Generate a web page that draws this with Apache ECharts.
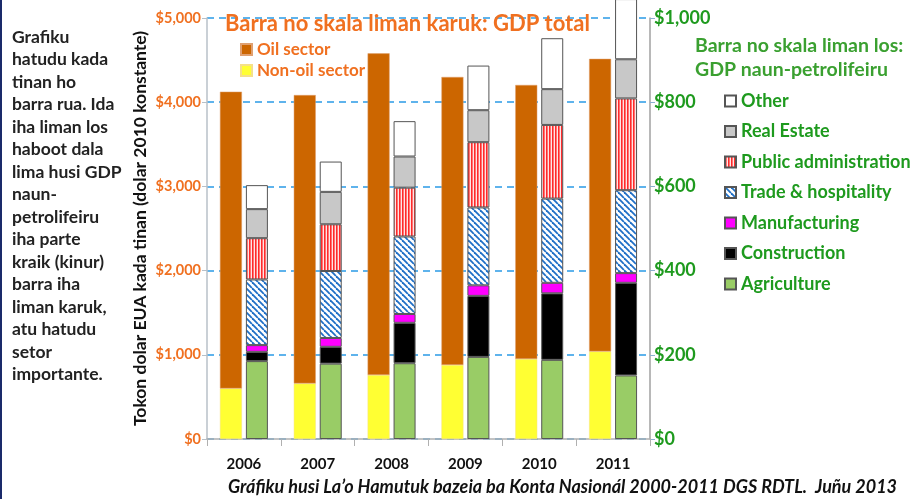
<!DOCTYPE html>
<html>
<head>
<meta charset="utf-8">
<script src="https://cdn.jsdelivr.net/npm/echarts@6/dist/echarts.min.js"></script>
<style>
  html, body { margin: 0; padding: 0; background: #fff; }
  #main { width: 918px; height: 499px; }
</style>
</head>
<body>
<div id="main"></div>
<script>
// data
var years = ['2006', '2007', '2008', '2009', '2010', '2011'];
var nonOil = [600, 660, 760, 880, 950, 1040];
var oil = [3525, 3425, 3820, 3420, 3255, 3475];

// non-oil sectors (right axis)
var agriculture = [185, 179, 180, 195, 188, 151];
var construction = [22, 40, 96, 145, 158, 220];
var manufacturing = [16, 21, 21, 25, 25, 23];
var trade = [156, 159, 184, 185, 200, 197];
var publicAdmin = [98, 111, 116, 155, 175, 218];
var realEstate = [69, 77, 74, 76, 85, 93];
var other = [57, 72, 84, 106, 121, 143];

var leftTicks = [0, 1000, 2000, 3000, 4000, 5000];
var rightTicks = [0, 200, 400, 600, 800, 1000];

var FONT = 'Lato, "Open Sans", sans-serif';
var ORANGE = '#f07020';
var GREEN = '#1e9a1e';

function fmtDollar(v) {
    return '$' + v.toLocaleString('en-US');
}

// stripe patterns
function tradePattern() {
    var c = document.createElement('canvas');
    c.width = 6; c.height = 6;
    var g = c.getContext('2d');
    g.fillStyle = '#ffffff';
    g.fillRect(0, 0, 6, 6);
    g.strokeStyle = '#1f6fc6';
    g.lineWidth = 1.8;
    for (var k = -6; k <= 6; k += 6) {
        g.beginPath();
        g.moveTo(k, 0);
        g.lineTo(k + 6, 6);
        g.stroke();
    }
    return { image: c, repeat: 'repeat' };
}
function adminPattern() {
    var c = document.createElement('canvas');
    c.width = 3; c.height = 3;
    var g = c.getContext('2d');
    g.fillStyle = '#ffe4e4';
    g.fillRect(0, 0, 3, 3);
    g.fillStyle = '#ff2a2a';
    g.fillRect(0, 0, 1.6, 3);
    return { image: c, repeat: 'repeat' };
}

function sector(name, data, color) {
    return {
        name: name,
        type: 'bar',
        stack: 'nonoil',
        yAxisIndex: 1,
        barWidth: 22,
        barGap: '18%',
        clip: false,
        itemStyle: { color: color, borderColor: '#555', borderWidth: 1 },
        data: data
    };
}

var chart = echarts.init(document.getElementById('main'));

var option = {
    backgroundColor: '#fff',
    animation: false,
    textStyle: { fontFamily: FONT },
    title: {
        text: 'Barra no skala liman karuk: GDP total',
        left: 220,
        top: 8,
        textStyle: { color: ORANGE, fontSize: 22, fontWeight: 'bold', fontFamily: FONT }
    },
    legend: [
        {
            data: ['Oil sector', 'Non-oil sector'],
            orient: 'vertical',
            left: 235,
            top: 36,
            itemWidth: 11,
            itemHeight: 11,
            itemGap: 4,
            icon: 'rect',
            selectedMode: false,
            textStyle: { color: ORANGE, fontSize: 17, fontWeight: 'bold', fontFamily: FONT }
        },
        {
            data: ['Other', 'Real Estate', 'Public administration', 'Trade & hospitality',
                'Manufacturing', 'Construction', 'Agriculture'],
            orient: 'vertical',
            left: 719,
            top: 87,
            itemWidth: 11,
            itemHeight: 11,
            itemGap: 12.5,
            icon: 'rect',
            selectedMode: false,
            textStyle: { color: GREEN, fontSize: 18, fontWeight: 'bold', fontFamily: FONT }
        }
    ],
    grid: { left: 207, right: 268, top: 18, bottom: 60 },
    xAxis: {
        type: 'category',
        data: years,
        axisLine: { lineStyle: { color: '#b0b0b0', width: 1.5 } },
        axisTick: { show: true, length: 7, lineStyle: { color: '#b0b0b0' } },
        axisLabel: { color: '#111', fontSize: 15, fontWeight: 'bold', margin: 18, fontFamily: FONT }
    },
    yAxis: [
        {
            type: 'value',
            min: leftTicks[0],
            max: leftTicks[leftTicks.length - 1],
            interval: 1000,
            name: 'Tokon dolar EUA kada tinan (dolar 2010 konstante)',
            nameLocation: 'middle',
            nameRotate: 90,
            nameGap: 58,
            nameTextStyle: { color: '#111', fontSize: 17.5, fontWeight: 'bold', fontFamily: FONT },
            axisLine: { show: true, lineStyle: { color: '#b8c0c8', width: 1.5 } },
            axisTick: { show: true, length: 5, lineStyle: { color: '#b8c0c8' } },
            axisLabel: { color: ORANGE, fontSize: 14.5, fontWeight: 'bold', margin: 6, formatter: fmtDollar, fontFamily: FONT },
            splitLine: { show: true, lineStyle: { color: '#2a9be6', width: 1.5, type: [7, 5] } }
        },
        {
            type: 'value',
            min: rightTicks[0],
            max: rightTicks[rightTicks.length - 1],
            interval: 200,
            position: 'right',
            axisLine: { show: true, lineStyle: { color: '#a0a0a0', width: 1.5 } },
            axisTick: { show: true, length: 5, lineStyle: { color: '#8ab0d0' } },
            axisLabel: { color: GREEN, fontSize: 18, fontWeight: 'bold', margin: 4, formatter: fmtDollar, fontFamily: FONT },
            splitLine: { show: false }
        }
    ],
    series: [
        {
            name: 'Non-oil sector',
            type: 'bar',
            stack: 'gdp',
            barWidth: 22,
            barGap: '18%',
            itemStyle: { color: '#ffff33', borderColor: '#f5e08a', borderWidth: 0.5 },
            data: nonOil
        },
        {
            name: 'Oil sector',
            type: 'bar',
            stack: 'gdp',
            barWidth: 22,
            itemStyle: { color: '#cc6600', borderColor: '#e0a070', borderWidth: 0.5 },
            data: oil
        },
        sector('Agriculture', agriculture, '#99cc66'),
        sector('Construction', construction, '#000000'),
        sector('Manufacturing', manufacturing, '#ff00ff'),
        sector('Trade & hospitality', trade, tradePattern()),
        sector('Public administration', publicAdmin, adminPattern()),
        sector('Real Estate', realEstate, '#c8c8c8'),
        sector('Other', other, '#ffffff')
    ],
    graphic: [
        {
            type: 'rect',
            left: 0, top: 0,
            shape: { width: 2, height: 499 },
            style: { fill: '#1a2a6a' }
        },
        {
            type: 'text',
            left: 12,
            top: 26,
            style: {
                text: 'Grafiku\nhatudu kada\ntinan ho\nbarra rua. Ida\niha liman los\nhaboot dala\nlima husi GDP\nnaun-\npetrolifeiru\niha parte\nkraik (kinur)\nbarra iha\nliman karuk,\natu hatudu\nsetor\nimportante.',
                fill: '#222',
                font: 'bold 17.5px ' + FONT,
                lineHeight: 22.5
            }
        },
        {
            type: 'text',
            left: 695,
            top: 34,
            style: {
                text: 'Barra no skala liman los:\nGDP naun-petrolifeiru',
                fill: '#3aa030',
                font: 'bold 19.5px ' + FONT,
                lineHeight: 24
            }
        },
        {
            type: 'text',
            left: 228,
            top: 478,
            style: {
                text: 'Gráfiku husi La\u2019o Hamutuk bazeia ba Konta Nasionál 2000-2011 DGS RDTL.  Juñu 2013',
                fill: '#111',
                font: 'italic bold 18px ' + FONT
            }
        }
    ]
};

chart.setOption(option);
</script>
</body>
</html>
